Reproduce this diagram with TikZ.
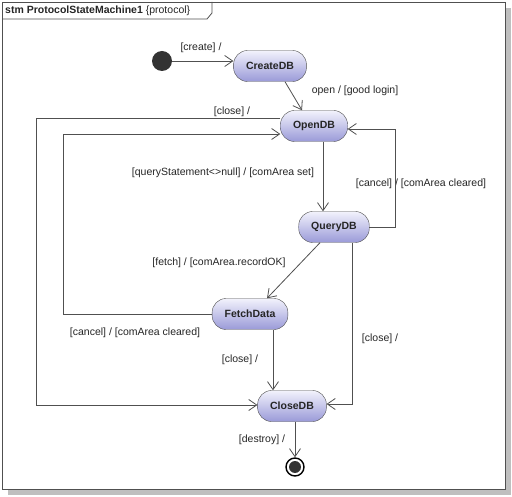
\documentclass[tikz,border=0pt]{standalone}
\usepackage{fontspec}
\setmainfont{Liberation Sans}
\usetikzlibrary{arrows.meta}
\definecolor{stateTop}{HTML}{F2F2FC}
\definecolor{stateBottom}{HTML}{9A9AD8}
\definecolor{lineGray}{HTML}{505050}
\tikzset{state/.style={draw=lineGray, top color=stateTop, bottom color=stateBottom, rounded corners=14pt, minimum height=31pt, inner xsep=12.5pt, font=\fontsize{10.5}{12}\selectfont\bfseries}}
\tikzset{ initial/.style={circle, fill=black!80, minimum size=20pt, inner sep=0pt}}
\tikzset{ final/.style={circle, draw=black, line width=1.4pt, minimum size=18pt, inner sep=0pt, path picture={\fill[black!80] (path picture bounding box.center) circle (6pt);}}}
\tikzset{ trans/.style={draw=lineGray, line width=0.8pt, ->}}

\begin{document}
\begin{tikzpicture}[x=1pt, y=-1pt, every node/.style={font=\fontsize{10.5}{12}\selectfont, text=black!85}, >={Straight Barb[length=8pt,width=11pt]}]
  \useasboundingbox (0,0) rectangle (512,497);
      % Frame
  \fill[black!25] (8,8) rectangle (511,495);
  \draw[fill=white, draw=lineGray, line width=0.8pt] (2,2) rectangle (505,489);
  \draw[draw=lineGray, line width=0.8pt] (2,19) -- (207,19) -- (212,13) -- (212,2);
  \node[anchor=base west, inner sep=0pt] (Title) at (5,14) {\textbf{stm ProtocolStateMachine1} \{protocol\}};

      % States
  \node[initial] (Start) at (162,61) {};
  \node[state] (CreateDB) at (270,66) {CreateDB};
  \node[state] (OpenDB) at (314,126) {OpenDB};
  \node[state] (QueryDB) at (334,227) {QueryDB};
  \node[state] (FetchData) at (250,314) {FetchData};
  \node[state] (CloseDB) at (292,406) {CloseDB};
  \node[final] (End) at (295,467) {};

  \coordinate (OuterLeft) at (36,405);
  \coordinate (InnerLeft) at (63,134);
  \coordinate (RightLoop) at (395,129);

      % Labels
  \node (CreateLabel) at (201,48) {[create] /};
  \node (OpenLabel) at (355,91) {open / [good login]};
  \node (CloseOpenLabel) at (232,112) {[close] /};
  \node (QueryLabel) at (223,173) {[queryStatement<>null] / [comArea set]};
  \node (CancelQueryLabel) at (421,184) {[cancel] / [comArea cleared]};
  \node (FetchLabel) at (219,263) {[fetch] / [comArea.recordOK]};
  \node (CancelFetchLabel) at (135,333) {[cancel] / [comArea cleared]};
  \node (CloseQueryLabel) at (380,339) {[close] /};
  \node (CloseFetchLabel) at (240,360) {[close] /};
  \node (DestroyLabel) at (262,440) {[destroy] /};

      % Transitions
  \draw[trans] (Start) to (Start -| CreateDB.west);
  \draw[trans] ([xshift=15pt]CreateDB.south) to ([xshift=-12pt]OpenDB.north);
  \draw[trans] ([yshift=8pt]OpenDB.west) -| (OuterLeft) -- (OuterLeft -| CloseDB.west);
  \draw[trans] (FetchData.west) -| (InnerLeft) -- (InnerLeft -| OpenDB.west);
  \draw[trans] ([xshift=9pt]OpenDB.south) to ([xshift=9pt]OpenDB.south |- QueryDB.north);
  \draw[trans] (QueryDB.east) -| (RightLoop) -- (RightLoop -| OpenDB.east);
  \draw[trans] ([xshift=-14pt]QueryDB.south) to ([xshift=17pt]FetchData.north);
  \draw[trans] ([xshift=18pt]QueryDB.south) |- ([yshift=2pt]CloseDB.east);
  \draw[trans] ([xshift=23pt]FetchData.south) to ([xshift=23pt]FetchData.south |- CloseDB.north);
  \draw[trans] (CloseDB.south -| End) to (End);

\end{tikzpicture}
\end{document}
